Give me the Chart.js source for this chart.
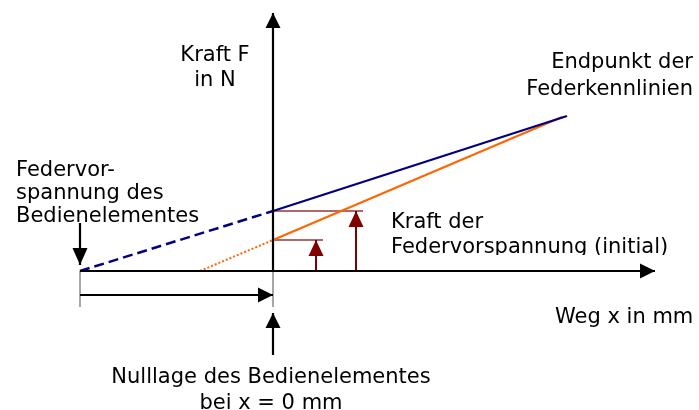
<!DOCTYPE html>
<html>
<head>
<meta charset="utf-8">
<title>Federkennlinie mit Vorspannung</title>
<script src="https://cdn.jsdelivr.net/npm/chart.js@4.4.0/dist/chart.umd.min.js"></script>
<style>
html, body { margin: 0; padding: 0; background: #fff; }
#wrap { width: 699px; height: 410px; }
</style>
</head>
<body>
<div id="wrap"><canvas id="chart" width="699" height="410"></canvas></div>
<script>
// Weg x (relative Einheiten, 0 = Nulllage) und Kraft F

// Kennlinie mit Vorspannung des Bedienelementes (blau)
const blauWeg = [-9.65, 0, 14.7];
const blauKraft = [0, 3.0, 7.75];

// Kennlinie mit initialer Federvorspannung (orange)
const orangeWeg = [-3.65, 0, 14.45];
const orangeKraft = [0, 1.55, 7.7];

// Pfeile "Kraft der Federvorspannung" und ihre Markierungslinien
const pfeilWeg = [2.15, 4.15];
const pfeilKraft = [1.55, 3.0];
const markeEnde = [2.5, 4.5];

// Achsen
const achseWeg = [-9.65, 19.1];
const achseKraft = [0, 12.9];

// Hilfspfeile unter der x-Achse
const vorspannWeg = -9.65;
const hilfsTiefe = -1.8;
const wegPfeilKraft = -1.2;
const nullPfeil = [-4.2, -2.1];
const vorspannPfeil = [2.4, 0.3];

const texte = [
    { zeilen: ['Kraft F', 'in N'], x: -2.9, y: 10.5, align: 'center', abstand: 25 },
    { zeilen: ['Endpunkt der', 'Federkennlinien'], x: 21.0, y: 10.15, align: 'right', abstand: 26.5 },
    { zeilen: ['Federvor-', 'spannung des', 'Bedienelementes'], x: -12.85, y: 4.75, align: 'left', abstand: 23 },
    { zeilen: ['Kraft der', 'Federvorspannung (initial)'], x: 5.9, y: 2.15, align: 'left', abstand: 25, clipY: 0.8 },
    { zeilen: ['Weg x in mm'], x: 14.1, y: -2.6, align: 'left', abstand: 26 },
    { zeilen: ['Nulllage des Bedienelementes', 'bei x = 0 mm'], x: -0.1, y: -5.6, align: 'center', abstand: 26 }
];

function punkte(xs, ys) {
    return xs.map((x, i) => ({ x: x, y: ys[i] }));
}

function linie(xs, ys, farbe, breite, extra) {
    return Object.assign({
        data: punkte(xs, ys),
        showLine: true,
        borderColor: farbe,
        backgroundColor: farbe,
        borderWidth: breite,
        pointRadius: 0,
        pointHoverRadius: 0,
        tension: 0,
        fill: false
    }, extra || {});
}

const schwarz = '#000000';
const blau = '#000080';
const orange = '#ff6600';
const rot = '#800000';
const grau = '#8a8a8a';
const spitze = { laenge: 15, breite: 15 };

const datasets = [
    // Achsen
    linie(achseWeg, [0, 0], schwarz, 2.2, { order: 0, pfeil: spitze }),
    linie([0, 0], achseKraft, schwarz, 2.2, { order: 0, pfeil: spitze }),
    // Kennlinien
    linie(blauWeg.slice(1), blauKraft.slice(1), blau, 2.2, { order: 1 }),
    linie(blauWeg.slice(0, 2), blauKraft.slice(0, 2), blau, 2.5, { order: 1, borderDash: [10, 5] }),
    linie(orangeWeg.slice(1), orangeKraft.slice(1), orange, 2.2, { order: 1 }),
    linie(orangeWeg.slice(0, 2), orangeKraft.slice(0, 2), orange, 2, { order: 1, borderDash: [2, 2] }),
    // Pfeile Kraft der Federvorspannung
    linie([pfeilWeg[0], pfeilWeg[0]], [0, pfeilKraft[0]], rot, 2, { order: 2, pfeil: { laenge: 16, breite: 15 } }),
    linie([pfeilWeg[1], pfeilWeg[1]], [0, pfeilKraft[1]], rot, 2, { order: 2, pfeil: { laenge: 16, breite: 15 } }),
    linie([0, markeEnde[0]], [pfeilKraft[0], pfeilKraft[0]], 'rgba(128,0,0,0.6)', 2, { order: 3 }),
    linie([0, markeEnde[1]], [pfeilKraft[1], pfeilKraft[1]], 'rgba(128,0,0,0.6)', 2, { order: 3 }),
    // Hilfslinien unter der Achse
    linie([vorspannWeg, vorspannWeg], [0, hilfsTiefe], grau, 1.5, { order: 4 }),
    linie([0, 0], [0, hilfsTiefe], grau, 1.5, { order: 4 }),
    linie([vorspannWeg, 0], [wegPfeilKraft, wegPfeilKraft], schwarz, 2.2, { order: 0, pfeil: spitze }),
    linie([0, 0], nullPfeil, schwarz, 2.2, { order: 0, pfeil: spitze }),
    linie([vorspannWeg, vorspannWeg], vorspannPfeil, schwarz, 2.2, { order: 0, pfeil: { laenge: 17, breite: 15 } })
];

// Pfeilspitzen am letzten Punkt eines Datensatzes
const pfeilspitzen = {
    id: 'pfeilspitzen',
    afterDatasetsDraw(chart) {
        const ctx = chart.ctx;
        chart.data.datasets.forEach((ds, i) => {
            if (!ds.pfeil) return;
            const pts = chart.getDatasetMeta(i).data;
            const a = pts[pts.length - 2];
            const b = pts[pts.length - 1];
            const winkel = Math.atan2(b.y - a.y, b.x - a.x);
            ctx.save();
            ctx.translate(b.x, b.y);
            ctx.rotate(winkel);
            ctx.beginPath();
            ctx.moveTo(0, 0);
            ctx.lineTo(-ds.pfeil.laenge, -ds.pfeil.breite / 2);
            ctx.lineTo(-ds.pfeil.laenge, ds.pfeil.breite / 2);
            ctx.closePath();
            ctx.fillStyle = ds.borderColor;
            ctx.fill();
            ctx.restore();
        });
    }
};

// Beschriftungen
const beschriftung = {
    id: 'beschriftung',
    afterDraw(chart) {
        const ctx = chart.ctx;
        const sx = chart.scales.x;
        const sy = chart.scales.y;
        ctx.save();
        ctx.font = '21px "DejaVu Sans", Verdana, sans-serif';
        ctx.fillStyle = '#000';
        ctx.textBaseline = 'alphabetic';
        texte.forEach(t => {
            ctx.save();
            if (t.clipY !== undefined) {
                ctx.beginPath();
                ctx.rect(0, 0, chart.width, sy.getPixelForValue(t.clipY));
                ctx.clip();
            }
            ctx.textAlign = t.align;
            const px = sx.getPixelForValue(t.x);
            const py = sy.getPixelForValue(t.y);
            t.zeilen.forEach((z, k) => ctx.fillText(z, px, py + k * t.abstand));
            ctx.restore();
        });
        ctx.restore();
    }
};

new Chart(document.getElementById('chart'), {
    type: 'scatter',
    data: { datasets: datasets },
    options: {
        responsive: false,
        animation: false,
        layout: { padding: 0 },
        scales: {
            x: { type: 'linear', min: -13.65, max: 21.3, display: false },
            y: { type: 'linear', min: -6.95, max: 13.55, display: false }
        },
        plugins: {
            legend: { display: false },
            tooltip: { enabled: false }
        },
        events: []
    },
    plugins: [pfeilspitzen, beschriftung]
});
</script>
</body>
</html>
